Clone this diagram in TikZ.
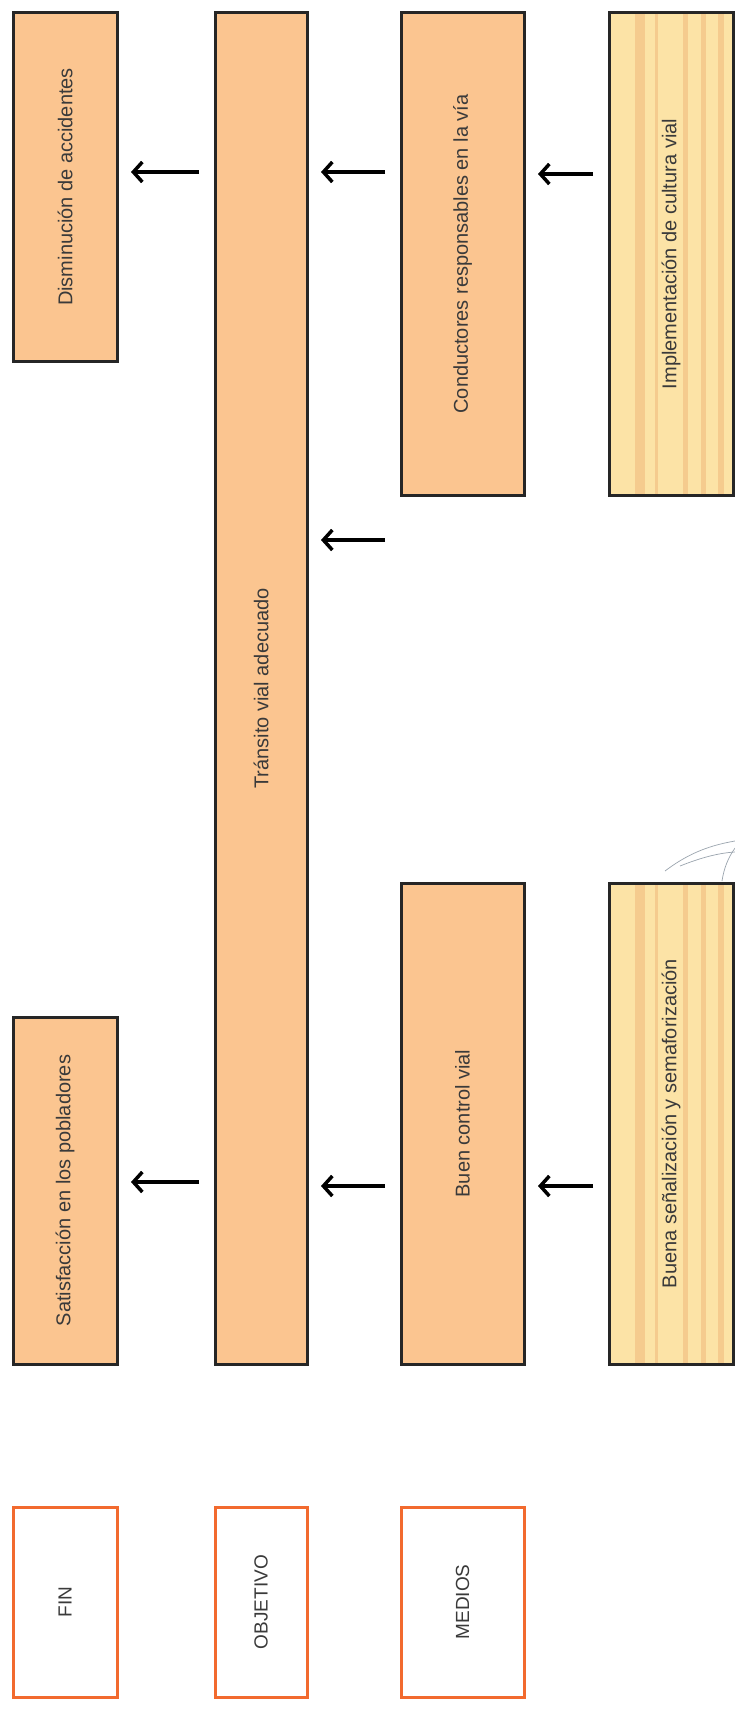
\documentclass[tikz,border=0pt]{standalone}
\usepackage{fontspec}
\setmainfont{Liberation Sans}
\usetikzlibrary{arrows.meta,calc}
\definecolor{melocoton}{HTML}{FBC590}
\definecolor{crema}{HTML}{FCE3A6}
\definecolor{franja}{HTML}{F5CB8E}
\definecolor{naranja}{HTML}{F26A2E}
\definecolor{texto}{HTML}{3A3A3A}
\definecolor{gris}{HTML}{9AA4AE}

\begin{document}
\begin{tikzpicture}[x=1pt,y=-1pt,
  caja/.style={draw=black!85,line width=3pt,fill=melocoton,inner sep=0pt,outer sep=0pt,
    text=texto,font=\fontsize{20}{24}\selectfont},
  rayada/.style={caja,fill=crema,path picture={\foreach \x/\w in {26/10,46/3,74/5,92/5,109/6}
    \fill[franja] ($(path picture bounding box.south west)+(\x,0)$) rectangle
      ($(path picture bounding box.north west)+(\x+\w,0)$);}},
  etiqueta/.style={draw=naranja,line width=3pt,fill=white,inner sep=0pt,outer sep=0pt,
    text=texto,font=\fontsize{19}{23}\selectfont},
  flecha/.style={-{Straight Barb[length=9pt,width=20pt]},line width=3.5pt,shorten >=14pt,shorten <=16pt}]
\fill[white] (0,0) rectangle (735,1710);
\useasboundingbox (0,0) rectangle (735,1710);

\node[caja,minimum width=104pt,minimum height=348pt] (dis) at (65,187) {\rotatebox{90}{Disminución de accidentes}};
\node[caja,minimum width=104pt,minimum height=347pt] (sat) at (65,1190.5) {\rotatebox{90}{Satisfacción en los pobladores}};
\node[caja,minimum width=92pt,minimum height=1351pt] (tra) at (261,688.5) {\rotatebox{90}{Tránsito vial adecuado}};
\node[caja,minimum width=123pt,minimum height=482pt] (con) at (462.5,254) {\rotatebox{90}{Conductores responsables en la vía}};
\node[caja,minimum width=123pt,minimum height=481pt] (bue) at (462.5,1123.5) {\rotatebox{90}{Buen control vial}};
\node[rayada,minimum width=124pt,minimum height=482pt] (imp) at (671,254) {\rotatebox{90}{Implementación de cultura vial}};
\node[rayada,minimum width=124pt,minimum height=481pt] (sen) at (671,1123.5) {\rotatebox{90}{Buena señalización y semaforización}};

\node[etiqueta,minimum width=104pt,minimum height=190pt] (fin) at (65,1602) {\rotatebox{90}{FIN}};
\node[etiqueta,minimum width=92pt,minimum height=190pt] (obj) at (261,1602) {\rotatebox{90}{OBJETIVO}};
\node[etiqueta,minimum width=123pt,minimum height=190pt] (med) at (462.5,1602) {\rotatebox{90}{MEDIOS}};

\draw[flecha] (tra.west |- 0,172) -- (dis.east |- 0,172);
\draw[flecha] (con.west |- 0,172) -- (tra.east |- 0,172);
\draw[flecha] (imp.west |- 0,174) -- (con.east |- 0,174);
\draw[flecha] (con.west |- 0,540) -- (tra.east |- 0,540);
\draw[flecha] (tra.west |- 0,1182) -- (sat.east |- 0,1182);
\draw[flecha] (bue.west |- 0,1186) -- (tra.east |- 0,1186);
\draw[flecha] (sen.west |- 0,1186) -- (bue.east |- 0,1186);

\draw[gris,line width=0.7pt] (665,871) .. controls (690,852) and (712,845) .. (735,841);
\draw[gris,line width=0.7pt] (680,866) .. controls (700,858) and (718,853) .. (735,852);
\draw[gris,line width=0.7pt] (722,881) .. controls (724,868) and (728,858) .. (735,848);
\end{tikzpicture}
\end{document}
